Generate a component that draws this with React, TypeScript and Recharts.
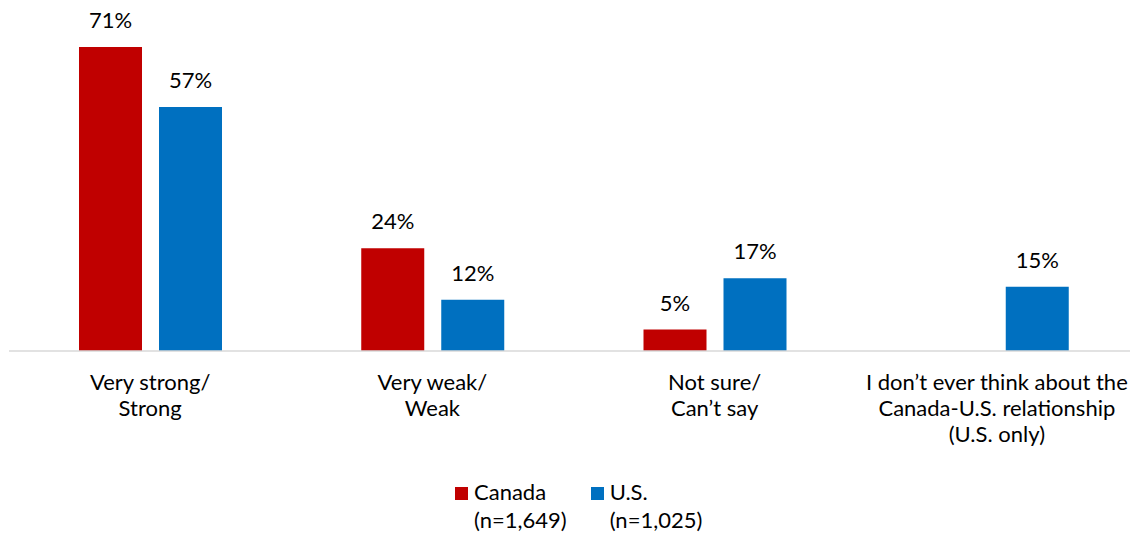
import React from 'react';
import { BarChart, Bar, XAxis, YAxis, LabelList, Legend } from 'recharts';

const categories = [
  'Very strong/\nStrong',
  'Very weak/\nWeak',
  'Not sure/\nCan\u2019t say',
  'I don\u2019t ever think about the\nCanada-U.S. relationship\n(U.S. only)',
];
const canada = [71, 24, 5, null];
const us = [57, 12, 17, 15];
const seriesNames = ['Canada', 'U.S.'];
const sampleSizes = ['(n=1,649)', '(n=1,025)'];
const COLORS = ['#C00000', '#0070C0'];

const data = categories.map((c, i) => ({ name: c, canada: canada[i], us: us[i] }));

const FONT = 'Lato, "Open Sans", sans-serif';

const CategoryTick = (props: any) => {
  const { x, y, payload } = props;
  const lines = String(payload.value).split('\n');
  return (
    <text x={x} y={y} textAnchor="middle" fill="#000" fontSize={22} fontFamily={FONT}>
      {lines.map((l, i) => (
        <tspan key={i} x={x} dy={i === 0 ? 39 : 26}>
          {l}
        </tspan>
      ))}
    </text>
  );
};

const LegendContent = () => (
  <div style={{ display: 'flex', paddingLeft: 455, paddingTop: 17, fontFamily: FONT, fontSize: 22, lineHeight: '28px', color: '#000' }}>
    {seriesNames.map((s, i) => (
      <div key={s} style={{ display: 'flex', marginRight: 24 }}>
        <div style={{ width: 13, height: 13, background: COLORS[i], marginTop: 9, marginRight: 6 }} />
        <div>
          <div>{s}</div>
          <div>{sampleSizes[i]}</div>
        </div>
      </div>
    ))}
  </div>
);

const fmt = (v: any) => (v == null ? '' : `${v}%`);

export default function App() {
  return (
    <div style={{ margin: '-8px 0 0 -8px', background: '#fff', width: 1138, height: 536 }}>
      <BarChart
        width={1138}
        height={536}
        data={data}
        margin={{ top: 8.5, right: 0, bottom: 0, left: 9 }}
        barSize={63}
        barGap={17}
      >
        <XAxis
          dataKey="name"
          tick={<CategoryTick />}
          tickLine={false}
          tickSize={0}
          tickMargin={0}
          axisLine={{ stroke: '#D9D9D9', strokeWidth: 1.5 }}
          height={110}
          interval={0}
        />
        <YAxis hide domain={[0, 80]} />
        <Legend verticalAlign="bottom" height={75} content={<LegendContent />} wrapperStyle={{ left: 0, width: 1138 }} />
        <Bar dataKey="canada" fill={COLORS[0]} isAnimationActive={false}>
          <LabelList dataKey="canada" position="top" offset={19} formatter={fmt} fill="#000" fontSize={22} fontFamily={FONT} />
        </Bar>
        <Bar dataKey="us" fill={COLORS[1]} isAnimationActive={false}>
          <LabelList dataKey="us" position="top" offset={19} formatter={fmt} fill="#000" fontSize={22} fontFamily={FONT} />
        </Bar>
      </BarChart>
    </div>
  );
}
